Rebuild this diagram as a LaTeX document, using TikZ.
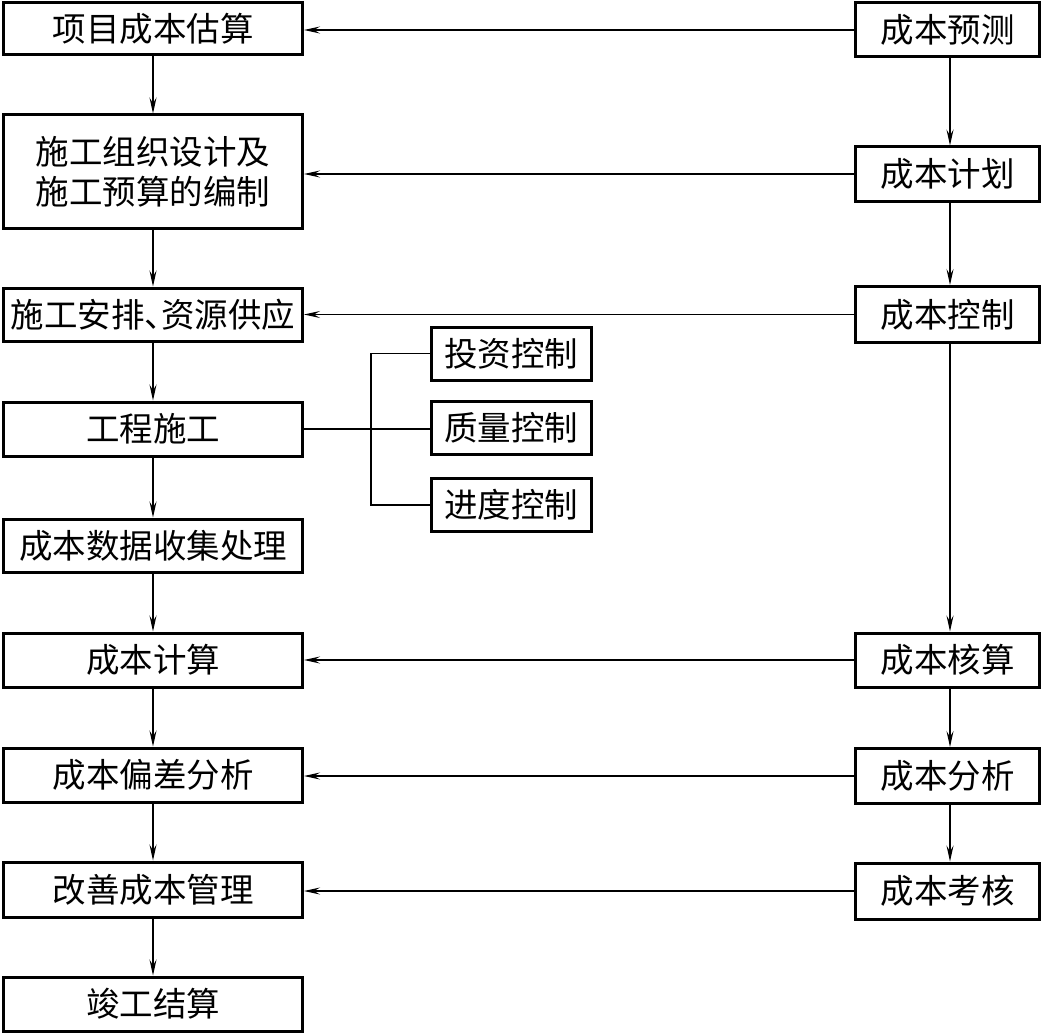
\documentclass[tikz,border=0pt]{standalone}
\usepackage{fontspec}
\setmainfont{Noto Sans CJK SC}
\usetikzlibrary{arrows.meta}
\begin{document}
\begin{tikzpicture}[x=1pt,y=-1pt,
  box/.style={draw,line width=3pt,inner sep=0pt,align=center,
    font=\fontsize{33.5}{40}\selectfont},
  lbox/.style={box,minimum width=299pt},
  rbox/.style={box,minimum width=184pt},
  mbox/.style={box,minimum width=160pt,minimum height=53pt},
  conn/.style={line width=1.2pt},
  arr/.style={conn,-{Stealth[length=16pt,width=7pt,inset=6pt]}}]
\useasboundingbox (0,0) rectangle (1043,1035);
% left column
\node[lbox,minimum height=52pt] (L1) at (153,29) {项目成本估算};
\node[lbox,minimum height=113pt] (L2) at (153,171.5) {施工组织设计及\\施工预算的编制};
\node[lbox,minimum height=53pt] (L3) at (153,314.5) {施工安排\makebox[0.5em][l]{、}资源供应};
\node[lbox,minimum height=54pt] (L4) at (153,429) {工程施工};
\node[lbox,minimum height=53pt] (L5) at (153,545.5) {成本数据收集处理};
\node[lbox,minimum height=54pt] (L6) at (153,660) {成本计算};
\node[lbox,minimum height=54pt] (L7) at (153,775) {成本偏差分析};
\node[lbox,minimum height=55pt] (L8) at (153,889.5) {改善成本管理};
\node[lbox,minimum height=54pt] (L9) at (153,1004) {竣工结算};
% right column
\node[rbox,minimum height=54pt] (R1) at (947.5,30) {成本预测};
\node[rbox,minimum height=54pt] (R2) at (947.5,174) {成本计划};
\node[rbox,minimum height=56pt] (R3) at (947.5,314.5) {成本控制};
\node[rbox,minimum height=54pt] (R4) at (947.5,660) {成本核算};
\node[rbox,minimum height=55pt] (R5) at (947.5,776) {成本分析};
\node[rbox,minimum height=56pt] (R6) at (947.5,891) {成本考核};
% middle boxes
\node[mbox] (M1) at (511,353.5) {投资控制};
\node[mbox] (M2) at (511,428) {质量控制};
\node[mbox] (M3) at (511,505) {进度控制};
% left vertical arrows
\foreach \a/\b in {L1/L2,L2/L3,L3/L4,L4/L5,L5/L6,L6/L7,L7/L8,L8/L9}
  \draw[arr] (\a.south) -- (\b.north);
% right vertical arrows
\foreach \a/\b in {R1/R2,R2/R3,R3/R4,R4/R5,R5/R6}
  \draw[arr] ([xshift=2.5pt]\a.south) -- ([xshift=2.5pt]\b.north);
% horizontal arrows
\draw[arr] (R1.west) -- (R1.west -| L1.east);
\draw[arr] (R2.west) -- (R2.west -| L2.east);
\draw[arr] (R3.west) -- (R3.west -| L3.east);
\draw[arr] (R4.west) -- (R4.west -| L6.east);
\draw[arr] (R5.west) -- (R5.west -| L7.east);
\draw[arr] (R6.west) -- (R6.west -| L8.east);
% bracket
\coordinate (bt) at (371,0);
\draw[conn] (L4.east) -- (L4.east -| M2.west);
\draw[conn] (M1.west) -- (M1.west -| bt) -- (M3.west -| bt) -- (M3.west);
\end{tikzpicture}
\end{document}
